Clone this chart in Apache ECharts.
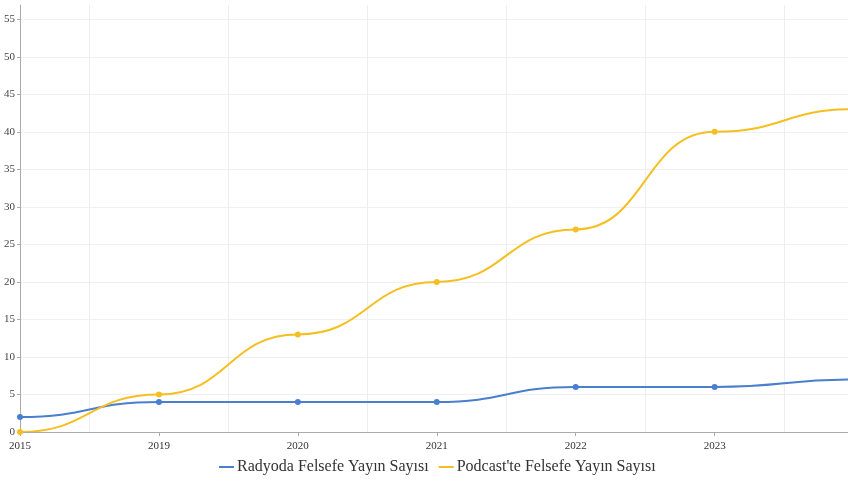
<!DOCTYPE html>
<html>
<head>
<meta charset="utf-8">
<script src="https://cdn.jsdelivr.net/npm/echarts@6/dist/echarts.min.js"></script>
<style>
  html, body { margin: 0; padding: 0; background: #fff; }
  #chart { width: 848px; height: 481px; }
</style>
</head>
<body>
<div id="chart"></div>
<script>
// kategoriler (son yıl grafiğin sağ kenarının hemen dışında kalıyor)
var years = ['2015', '2019', '2020', '2021', '2022', '2023', '2024']
var radyo = [2, 4, 4, 4, 6, 6, 7]
var podcast = [0, 5, 13, 20, 27, 40, 43]
var seriesNames = ['Radyoda Felsefe Yayın Sayısı', "Podcast'te Felsefe Yayın Sayısı"]
var colors = ['#4a7ecf', '#f5bf22']

var font = '"Liberation Serif", "DejaVu Serif", serif'
var smooth = 0.5

function pairs (arr) {
  return arr.map(function (v, i) { return [i, v] })
}

// ardışık iki nokta -> bir eğri parçası
function segments (arr) {
  return arr.slice(0, -1).map(function (v, i) { return [i, v, i + 1, arr[i + 1]] })
}

function curveSeries (arr, color) {
  return {
    type: 'custom',
    xAxisIndex: 0,
    clip: true,
    silent: true,
    z: 2,
    encode: { x: [0, 2], y: [1, 3] },
    renderItem: function (params, api) {
      var p0 = api.coord([api.value(0), api.value(1)])
      var p1 = api.coord([api.value(2), api.value(3)])
      var dx = (p1[0] - p0[0]) * smooth
      return {
        type: 'bezierCurve',
        shape: {
          x1: p0[0], y1: p0[1],
          x2: p1[0], y2: p1[1],
          cpx1: p0[0] + dx, cpy1: p0[1],
          cpx2: p1[0] - dx, cpy2: p1[1]
        },
        style: { stroke: color, lineWidth: 2, fill: null }
      }
    },
    data: segments(arr)
  }
}

function pointSeries (name, arr, color) {
  return {
    name: name,
    type: 'line',
    xAxisIndex: 0,
    z: 3,
    symbol: 'circle',
    symbolSize: 6,
    lineStyle: { width: 0, color: color },
    itemStyle: { color: color },
    data: pairs(arr)
  }
}

var myChart = echarts.init(document.getElementById('chart'))
myChart.setOption({
  animation: false,
  textStyle: { fontFamily: font },
  grid: { left: 20, right: 0, top: 5, bottom: 49, containLabel: false },
  legend: {
    top: 459,
    left: 219,
    icon: 'rect',
    itemWidth: 15,
    itemHeight: 2,
    itemGap: 10,
    padding: 0,
    textStyle: { fontFamily: font, fontSize: 16, color: '#333', padding: [0, 0, 0, -2] },
    data: seriesNames
  },
  xAxis: [{
    type: 'value',
    min: 0,
    max: 5.96,
    interval: 1,
    axisLine: { lineStyle: { color: '#aaa', width: 1 } },
    axisTick: { show: true, length: 4, lineStyle: { color: '#aaa' } },
    axisLabel: {
      color: '#333',
      fontSize: 11,
      fontFamily: font,
      margin: 9,
      showMaxLabel: false,
      formatter: function (v) {
        return Number.isInteger(v) ? years[v] : ''
      }
    },
    splitLine: { show: false }
  }, {
    // yarım adımlardaki dikey ızgara çizgileri
    type: 'value',
    min: 0,
    max: 5.96,
    interval: 0.5,
    position: 'bottom',
    axisLine: { show: false },
    axisTick: { show: false },
    axisLabel: { show: false },
    splitLine: { show: true, lineStyle: { color: ['rgba(0,0,0,0)', '#eeeeee'], width: 1 } }
  }],
  yAxis: {
    type: 'value',
    min: 0,
    max: 56.9,
    interval: 5,
    axisLine: { show: true, lineStyle: { color: '#aaa', width: 1 } },
    axisTick: { show: true, length: 3, lineStyle: { color: '#aaa' } },
    axisLabel: { color: '#444', fontSize: 11, fontFamily: font, margin: 5, showMaxLabel: false },
    splitLine: { show: true, showMaxLine: false, lineStyle: { color: '#f0f0f0' } }
  },
  series: [
    curveSeries(radyo, colors[0]),
    curveSeries(podcast, colors[1]),
    pointSeries(seriesNames[0], radyo, colors[0]),
    pointSeries(seriesNames[1], podcast, colors[1])
  ]
})
</script>
</body>
</html>
